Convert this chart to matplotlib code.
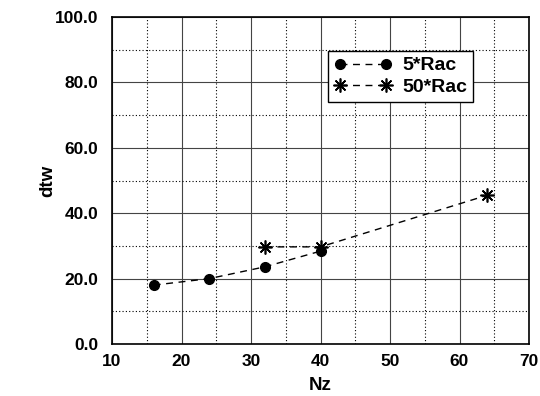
import matplotlib.pyplot as plt
from matplotlib.ticker import MultipleLocator

plt.rcParams['font.family'] = ['Liberation Sans', 'DejaVu Sans']

# data
nz_5 = [16, 24, 32, 40]
dtw_5 = [18.0, 20.0, 23.6, 28.4]
nz_50 = [32, 40, 64]
dtw_50 = [29.7, 29.7, 45.5]

fig = plt.figure(figsize=(5.4, 3.96), dpi=100)
ax = fig.add_axes([112 / 540, 1 - 344 / 396, 417 / 540, 327 / 396])

ax.plot(nz_5, dtw_5, color='black', linestyle=(0, (5, 4)), linewidth=1,
        marker='o', markersize=7, label='5*Rac')
ax.plot(nz_50, dtw_50, color='black', linestyle=(0, (5, 4)), linewidth=1,
        marker=(8, 2, 0), markersize=10, markeredgewidth=1.2, label='50*Rac')

ax.set_xlim(10, 70)
ax.set_ylim(0, 100)
ax.xaxis.set_major_locator(MultipleLocator(10))
ax.xaxis.set_minor_locator(MultipleLocator(5))
ax.yaxis.set_major_locator(MultipleLocator(20))
ax.yaxis.set_minor_locator(MultipleLocator(10))
ax.yaxis.set_major_formatter(lambda v, p: f'{v:.1f}')

ax.grid(which='major', color='#444444', linestyle='-', linewidth=0.8)
ax.grid(which='minor', color='black', linestyle=(0, (1, 2)), linewidth=0.8)
ax.set_axisbelow(True)
ax.tick_params(which='both', length=0)
ax.tick_params(axis='y', pad=10)
ax.tick_params(axis='x', pad=7)
for lab in ax.get_xticklabels() + ax.get_yticklabels():
    lab.set_fontweight('bold')
    lab.set_fontsize(12.5)
for s in ax.spines.values():
    s.set_linewidth(1.2)

ax.set_xlabel('Nz', fontsize=13.5, fontweight='bold', labelpad=6)
ax.set_ylabel('dtw', fontsize=13.5, fontweight='bold', labelpad=-1)

leg = ax.legend(loc='upper left', bbox_to_anchor=(0.518, 0.896), fancybox=False,
                framealpha=1, edgecolor='black', prop={'weight': 'bold', 'size': 14},
                numpoints=2, handlelength=3.0, handletextpad=0.5, borderpad=0.3,
                labelspacing=0.2, borderaxespad=0)
leg.get_frame().set_linewidth(1)

fig.savefig('out.png', dpi=100)
